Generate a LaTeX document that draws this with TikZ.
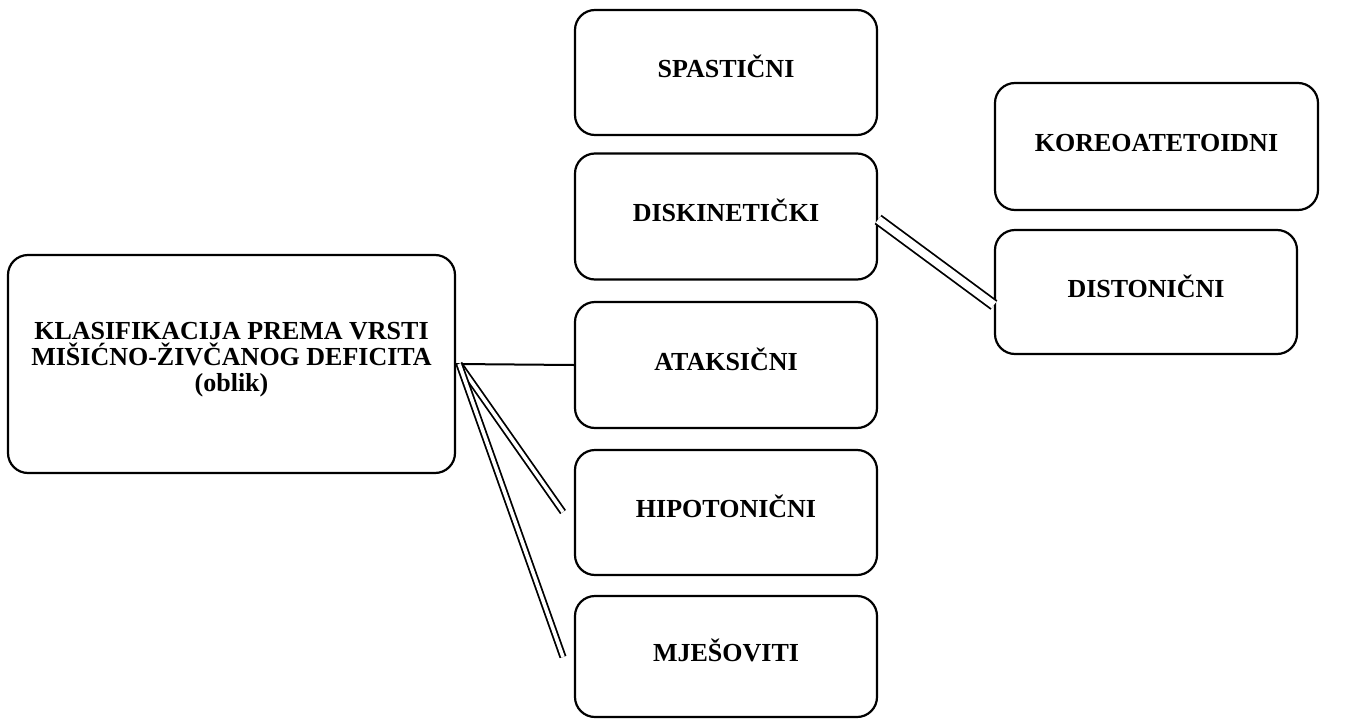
\documentclass[tikz,border=0pt]{standalone}
\usepackage{fontspec}
\setmainfont{Liberation Serif}
\begin{document}
\begin{tikzpicture}[x=1pt,y=-1pt,
  boxfont/.style={font=\fontsize{26}{26}\selectfont\bfseries},
  box/.style={draw=black, line width=2.2pt, rounded corners=20pt, fill=white,
    align=center, boxfont, inner sep=0pt, text height=18pt, text depth=8pt},
  single/.style={draw=black, line width=2pt},
  dbl/.style={draw=black, line width=1.8pt, double=white, double distance=3.6pt},
  wdbl/.style={draw=black, line width=1.8pt, double=white, double distance=8pt}]
\useasboundingbox (0,0) rectangle (1352,720);
\node[box, minimum width=447pt, minimum height=218pt] (L) at (231.5,364) {};
\node[boxfont, align=center, inner sep=0pt] (Ltxt) at (231.5,360)
  {KLASIFIKACIJA PREMA VRSTI\\MIŠIĆNO-ŽIVČANOG DEFICITA\\(oblik)};
\node[box, minimum width=302pt, minimum height=125pt] (S) at (726,72.5) {SPASTIČNI};
\node[box, minimum width=302pt, minimum height=126pt] (D) at (726,216.5) {DISKINETIČKI};
\node[box, minimum width=302pt, minimum height=126pt] (A) at (726,365) {ATAKSIČNI};
\node[box, minimum width=302pt, minimum height=125pt] (H) at (726,512.5) {HIPOTONIČNI};
\node[box, minimum width=302pt, minimum height=121pt] (M) at (726,656.5) {MJEŠOVITI};
\node[box, minimum width=323pt, minimum height=127pt] (K) at (1156.5,146.5) {KOREOATETOIDNI};
\node[box, minimum width=302pt, minimum height=124pt] (T) at (1146,292) {DISTONIČNI};
\coordinate (hE) at (563,512);
\coordinate (mE) at (563,657);
\draw[single] (L.east) -- (A.west);
\draw[dbl] ([xshift=3pt]L.east) -- (hE);
\draw[dbl] ([xshift=3pt]L.east) -- (mE);
\draw[wdbl] ([yshift=-3pt]D.east) -- ([yshift=-13pt]T.west);
\end{tikzpicture}
\end{document}
